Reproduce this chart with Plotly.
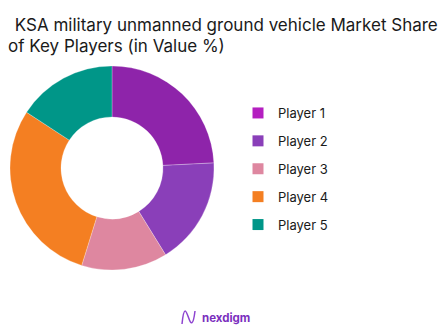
import plotly.graph_objects as go

labels = ["Player 1", "Player 2", "Player 3", "Player 4", "Player 5"]
values = [24.2, 17.0, 13.6, 29.4, 15.8]
slice_colors = ["#8E24AA", "#8A3FB9", "#DE87A0", "#F47F22", "#009688"]
legend_colors = ["#B41FC0", "#8A3FB9", "#DE87A0", "#F47F22", "#009688"]
title_lines = [" KSA military unmanned ground vehicle Market Share", "of Key Players (in Value %)"]

W, H = 443, 332

fig = go.Figure()
fig.add_trace(go.Pie(
    labels=labels, values=values, hole=0.5, sort=False, direction="clockwise",
    rotation=0, marker=dict(colors=slice_colors, line=dict(color="rgba(255,255,255,0.5)", width=0.5)),
    textinfo="none", hoverinfo="label+percent", showlegend=False,
    domain=dict(x=[10 / W, 214 / W], y=[1 - 270 / H, 1 - 66 / H]),
))
for i, (lab, col) in enumerate(zip(labels, legend_colors)):
    fig.add_trace(go.Scatter(
        x=[None], y=[None], mode="markers", name=lab, legendgroup=f"g{i}",
        marker=dict(symbol="square", size=11, color=col),
    ))

def px(x, y):
    return x / W, 1 - y / H

# logo icon path
pts = [(182, 324), (184, 311), (193, 324), (195, 311)]
p = [px(*q) for q in pts]
path = (f"M {p[0][0]},{p[0][1]} C {p[1][0]},{p[1][1]+0.02} {p[1][0]+0.005},{p[1][1]} {(p[1][0]+p[2][0])/2},{(p[1][1]+p[2][1])/2} "
        f"S {p[2][0]},{p[2][1]-0.01} {p[3][0]},{p[3][1]}")

title_font = dict(family="Inter, Open Sans, sans-serif", size=17, color="#1a1a1a")
annotations = [
    dict(text=title_lines[0], x=px(8, 0)[0], y=px(0, 25)[1], xref="paper", yref="paper",
         xanchor="left", yanchor="middle", showarrow=False, font=title_font),
    dict(text=title_lines[1], x=px(6, 0)[0], y=px(0, 46)[1], xref="paper", yref="paper",
         xanchor="left", yanchor="middle", showarrow=False, font=title_font),
    dict(text="<b>nexdigm</b>", x=200 / W, y=1 - 318 / H, xref="paper", yref="paper",
         xanchor="left", yanchor="middle", showarrow=False,
         font=dict(family="Inter, Open Sans, sans-serif", size=11.5, color="#7B2FBE")),
]

fig.update_layout(
    width=W, height=H,
    margin=dict(l=0, r=0, t=0, b=0),
    paper_bgcolor="white", plot_bgcolor="white",
    xaxis=dict(visible=False), yaxis=dict(visible=False),
    legend=dict(x=238 / W, xanchor="left", y=1 - 98 / H, yanchor="top",
                font=dict(family="Inter, Open Sans, sans-serif", size=13, color="#1a1a1a"),
                tracegroupgap=8, itemwidth=30, bgcolor="rgba(0,0,0,0)"),
    shapes=[dict(type="path", xref="paper", yref="paper", path=path,
                 line=dict(color="#8E44D0", width=1.5))],
    annotations=annotations,
)

fig.write_html("out.html")
